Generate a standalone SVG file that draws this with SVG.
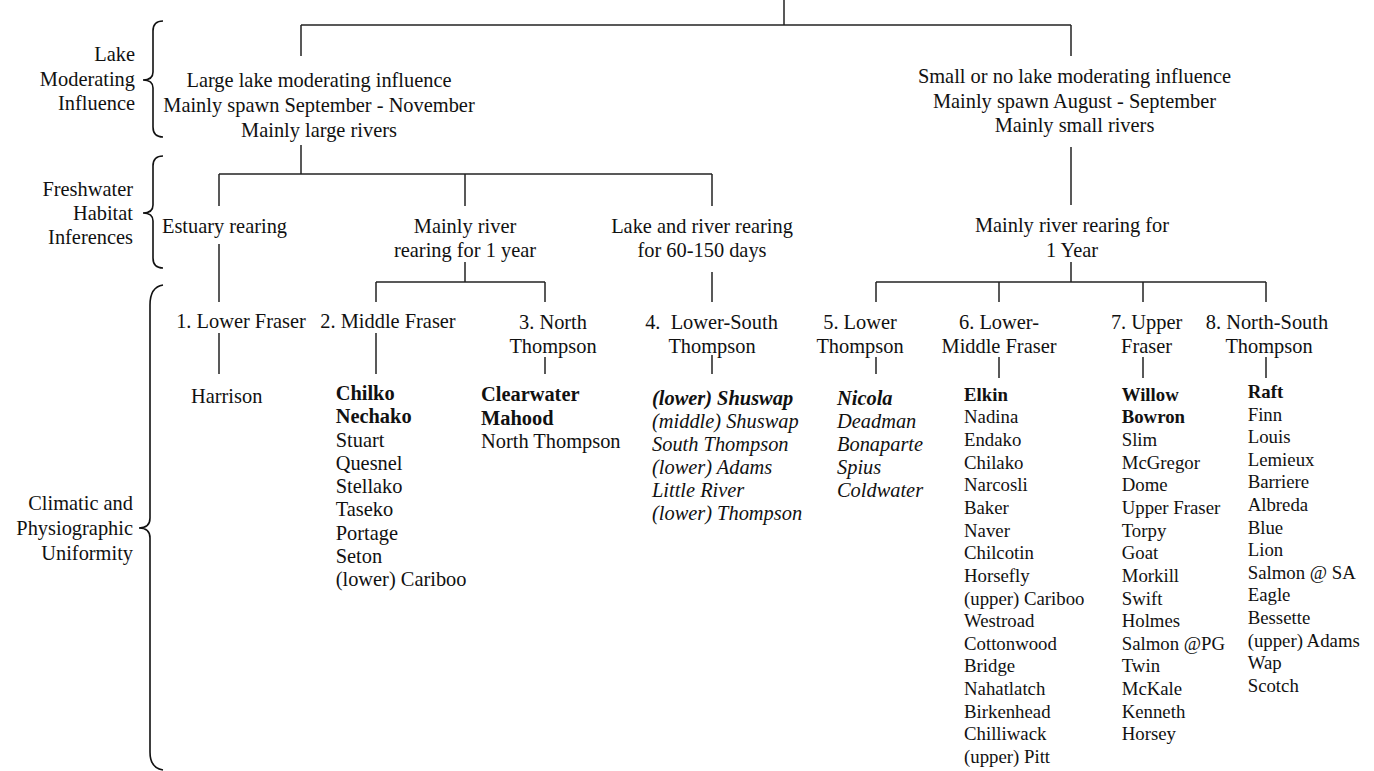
<svg xmlns="http://www.w3.org/2000/svg" width="1374" height="771" viewBox="0 0 1374 771">
<style>
text{font-family:"Liberation Serif","Times New Roman",serif;font-size:20.4px;fill:#111}
.m{text-anchor:middle}
.e{text-anchor:end}
.s{font-size:18.8px}
.b{font-weight:bold}
.i{font-style:italic}
.c line{stroke:#222;stroke-width:1.5}
.br{fill:none;stroke:#111;stroke-width:1.6}
</style>
<rect width="1374" height="771" fill="#fff"/>
<g id="connectors" class="c">
<line x1="784" y1="0" x2="784" y2="25"/>
<line x1="301" y1="25" x2="1071" y2="25"/>
<line x1="301" y1="25" x2="301" y2="56"/>
<line x1="1071" y1="25" x2="1071" y2="56"/>
<line x1="301" y1="145" x2="301" y2="174"/>
<line x1="219" y1="174" x2="712" y2="174"/>
<line x1="219" y1="174" x2="219" y2="206"/>
<line x1="465" y1="174" x2="465" y2="206"/>
<line x1="712" y1="174" x2="712" y2="206"/>
<line x1="1071" y1="147" x2="1071" y2="205"/>
<line x1="219" y1="244" x2="219" y2="302"/>
<line x1="465" y1="262" x2="465" y2="282"/>
<line x1="376" y1="282" x2="545" y2="282"/>
<line x1="376" y1="282" x2="376" y2="302"/>
<line x1="545" y1="282" x2="545" y2="302"/>
<line x1="712" y1="272" x2="712" y2="302"/>
<line x1="1071" y1="262" x2="1071" y2="282"/>
<line x1="876" y1="282" x2="1266" y2="282"/>
<line x1="876" y1="282" x2="876" y2="302"/>
<line x1="999" y1="282" x2="999" y2="302"/>
<line x1="1143" y1="282" x2="1143" y2="302"/>
<line x1="1266" y1="282" x2="1266" y2="302"/>
<line x1="219" y1="333" x2="219" y2="374"/>
<line x1="376" y1="333" x2="376" y2="374"/>
<line x1="545" y1="357" x2="545" y2="374"/>
<line x1="712" y1="355" x2="712" y2="374"/>
<line x1="876" y1="357" x2="876" y2="374"/>
<line x1="999" y1="357" x2="999" y2="378"/>
<line x1="1143" y1="357" x2="1143" y2="378"/>
<line x1="1266" y1="357" x2="1266" y2="378"/>
</g>
<g id="braces">
<g id="brace-lake">
<path class="br" d="M163 21 Q153 21 153 31 L153 72 Q153 80 143 80 Q153 80 153 88 L153 127 Q153 137 163 137"/>
<text class="e" x="135" y="61">Lake</text>
<text class="e" x="135" y="86">Moderating</text>
<text class="e" x="135" y="110">Influence</text>
</g>
<g id="brace-habitat">
<path class="br" d="M163 156 Q153 156 153 166 L153 205 Q153 213 143 213 Q153 213 153 221 L153 258 Q153 268 163 268"/>
<text class="e" x="133" y="196">Freshwater</text>
<text class="e" x="133" y="220">Habitat</text>
<text class="e" x="133" y="244">Inferences</text>
</g>
<g id="brace-climate">
<path class="br" d="M163 285 Q150 287 150 305 L150 518 Q150 528 139 528 Q150 528 150 538 L150 752 Q150 768 163 770"/>
<text class="e" x="133" y="510">Climatic and</text>
<text class="e" x="133" y="535">Physiographic</text>
<text class="e" x="133" y="560">Uniformity</text>
</g>
</g>
<g id="node-large-lake">
<text class="m" x="319" y="87">Large lake moderating influence</text>
<text class="m" x="319" y="112">Mainly spawn September - November</text>
<text class="m" x="319" y="137">Mainly large rivers</text>
</g>
<g id="node-small-lake">
<text class="m" x="1074.5" y="83">Small or no lake moderating influence</text>
<text class="m" x="1074.5" y="108">Mainly spawn August - September</text>
<text class="m" x="1074.5" y="132">Mainly small rivers</text>
</g>
<g id="node-estuary">
<text class="m" x="224.5" y="233">Estuary rearing</text>
</g>
<g id="node-river-1yr">
<text class="m" x="465" y="233">Mainly river</text>
<text class="m" x="465" y="257">rearing for 1 year</text>
</g>
<g id="node-lake-river">
<text class="m" x="702" y="233">Lake and river rearing</text>
<text class="m" x="702" y="257">for 60-150 days</text>
</g>
<g id="node-river-1Year">
<text class="m" x="1072" y="232">Mainly river rearing for</text>
<text class="m" x="1072" y="257">1 Year</text>
</g>
<g id="node-1">
<text class="m" x="241" y="328">1. Lower Fraser</text>
<text x="191" y="403">Harrison</text>
</g>
<g id="node-2">
<text class="m" x="388" y="328">2. Middle Fraser</text>
<text x="335.7" y="400" class="b">Chilko</text>
<text x="335.7" y="423.3" class="b">Nechako</text>
<text x="335.7" y="446.5">Stuart</text>
<text x="335.7" y="469.8">Quesnel</text>
<text x="335.7" y="493">Stellako</text>
<text x="335.7" y="516.3">Taseko</text>
<text x="335.7" y="539.5">Portage</text>
<text x="335.7" y="562.8">Seton</text>
<text x="335.7" y="586">(lower) Cariboo</text>
</g>
<g id="node-3">
<text class="m" x="553" y="329">3. North</text>
<text class="m" x="553" y="353">Thompson</text>
<text x="481" y="401" class="b">Clearwater</text>
<text x="481" y="424.5" class="b">Mahood</text>
<text x="481" y="448">North Thompson</text>
</g>
<g id="node-4">
<text class="m" x="711.5" y="329" style="white-space:pre">4.  Lower-South</text>
<text class="m" x="712" y="353">Thompson</text>
<text x="652" y="405" class="i b">(lower) Shuswap</text>
<text x="652" y="428" class="i">(middle) Shuswap</text>
<text x="652" y="451" class="i">South Thompson</text>
<text x="652" y="474" class="i">(lower) Adams</text>
<text x="652" y="497" class="i">Little River</text>
<text x="652" y="520" class="i">(lower) Thompson</text>
</g>
<g id="node-5">
<text class="m" x="860" y="329">5. Lower</text>
<text class="m" x="860" y="353">Thompson</text>
<text x="837" y="405" class="i b">Nicola</text>
<text x="837" y="428" class="i">Deadman</text>
<text x="837" y="451" class="i">Bonaparte</text>
<text x="837" y="474" class="i">Spius</text>
<text x="837" y="497" class="i">Coldwater</text>
</g>
<g id="node-6">
<text class="m" x="999" y="329">6. Lower-</text>
<text class="m" x="999" y="353">Middle Fraser</text>
<text x="964" y="400.7" class="s b">Elkin</text>
<text x="964" y="423.3" class="s">Nadina</text>
<text x="964" y="446" class="s">Endako</text>
<text x="964" y="468.6" class="s">Chilako</text>
<text x="964" y="491.3" class="s">Narcosli</text>
<text x="964" y="513.9" class="s">Baker</text>
<text x="964" y="536.5" class="s">Naver</text>
<text x="964" y="559.2" class="s">Chilcotin</text>
<text x="964" y="581.8" class="s">Horsefly</text>
<text x="964" y="604.5" class="s">(upper) Cariboo</text>
<text x="964" y="627.1" class="s">Westroad</text>
<text x="964" y="649.7" class="s">Cottonwood</text>
<text x="964" y="672.4" class="s">Bridge</text>
<text x="964" y="695" class="s">Nahatlatch</text>
<text x="964" y="717.7" class="s">Birkenhead</text>
<text x="964" y="740.3" class="s">Chilliwack</text>
<text x="964" y="763" class="s">(upper) Pitt</text>
</g>
<g id="node-7">
<text class="m" x="1146.6" y="329">7. Upper</text>
<text class="m" x="1146.6" y="353">Fraser</text>
<text x="1121.7" y="400.7" class="s b">Willow</text>
<text x="1121.7" y="423.3" class="s b">Bowron</text>
<text x="1121.7" y="446" class="s">Slim</text>
<text x="1121.7" y="468.6" class="s">McGregor</text>
<text x="1121.7" y="491.3" class="s">Dome</text>
<text x="1121.7" y="513.9" class="s">Upper Fraser</text>
<text x="1121.7" y="536.5" class="s">Torpy</text>
<text x="1121.7" y="559.2" class="s">Goat</text>
<text x="1121.7" y="581.8" class="s">Morkill</text>
<text x="1121.7" y="604.5" class="s">Swift</text>
<text x="1121.7" y="627.1" class="s">Holmes</text>
<text x="1121.7" y="649.7" class="s">Salmon @PG</text>
<text x="1121.7" y="672.4" class="s">Twin</text>
<text x="1121.7" y="695" class="s">McKale</text>
<text x="1121.7" y="717.7" class="s">Kenneth</text>
<text x="1121.7" y="740.3" class="s">Horsey</text>
</g>
<g id="node-8">
<text class="m" x="1267" y="329">8. North-South</text>
<text class="m" x="1269" y="353">Thompson</text>
<text x="1247.7" y="398" class="s b">Raft</text>
<text x="1247.7" y="420.6" class="s">Finn</text>
<text x="1247.7" y="443.2" class="s">Louis</text>
<text x="1247.7" y="465.8" class="s">Lemieux</text>
<text x="1247.7" y="488.4" class="s">Barriere</text>
<text x="1247.7" y="511" class="s">Albreda</text>
<text x="1247.7" y="533.6" class="s">Blue</text>
<text x="1247.7" y="556.2" class="s">Lion</text>
<text x="1247.7" y="578.8" class="s">Salmon @ SA</text>
<text x="1247.7" y="601.4" class="s">Eagle</text>
<text x="1247.7" y="624" class="s">Bessette</text>
<text x="1247.7" y="646.6" class="s">(upper) Adams</text>
<text x="1247.7" y="669.2" class="s">Wap</text>
<text x="1247.7" y="691.8" class="s">Scotch</text>
</g>
</svg>
